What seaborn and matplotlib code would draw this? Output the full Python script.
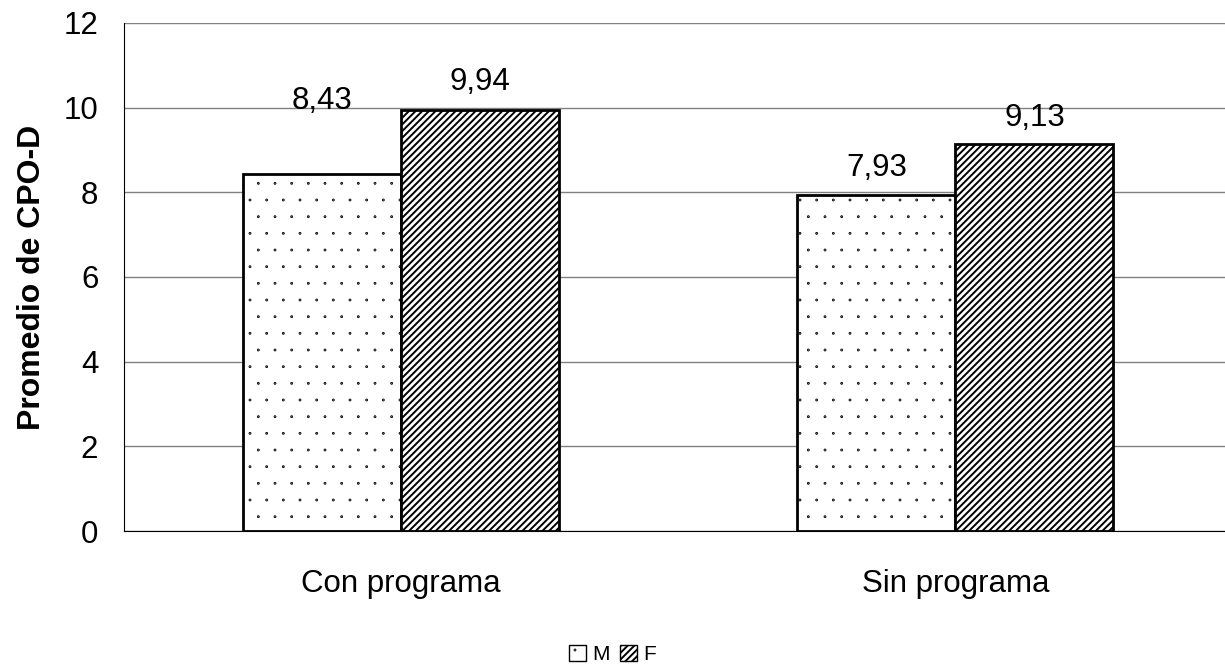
import pandas as pd
import matplotlib
import matplotlib.pyplot as plt
import seaborn as sns
from matplotlib.patches import Patch

# chart values
categories = ['Con programa', 'Sin programa']
sexes = ['M', 'F']
m_values = [8.43, 7.93]
f_values = [9.94, 9.13]
y_ticks = [0, 2, 4, 6, 8, 10, 12]

df = pd.DataFrame({
    'Grupo': categories * 2,
    'Sexo': ['M'] * len(categories) + ['F'] * len(categories),
    'CPO': m_values + f_values,
})

sns.set_style('white')
plt.rcParams['font.family'] = ['Liberation Sans', 'DejaVu Sans']
plt.rcParams['hatch.linewidth'] = 1.4
for key in ['text.color', 'axes.labelcolor', 'xtick.color', 'ytick.color']:
    plt.rcParams[key] = 'black'
# smaller dots for the stippled pattern
matplotlib.hatch.SmallFilledCircles.size = 0.025

fig = plt.figure(figsize=(12.25, 6.66), dpi=100)
ax = fig.add_axes([0.1012, 0.2027, 0.905, 0.7628])

sns.barplot(data=df, x='Grupo', y='CPO', hue='Sexo', hue_order=sexes,
            palette=['white', 'white'], width=0.57, gap=0,
            edgecolor='black', linewidth=2, ax=ax, legend=False)

hatches = {'M': '.', 'F': '/////'}
label_pad = {'M': [53, 20], 'F': [20, 19]}
for cont, sex in zip(ax.containers, sexes):
    for i, bar in enumerate(cont):
        bar.set_hatch(hatches[sex])
        ax.annotate(f'{bar.get_height():.2f}'.replace('.', ','),
                    (bar.get_x() + bar.get_width() / 2, bar.get_height()),
                    xytext=(0, label_pad[sex][i]), textcoords='offset points',
                    ha='center', va='center', fontsize=22.5)

ax.set_ylim(0, 12)
ax.set_yticks(y_ticks)
ax.yaxis.grid(True, color='#808080', linewidth=1)
ax.set_axisbelow(True)
ax.set_xlim(-0.5, 1.5)
ax.set_xticks([-0.5, 0.5, 1.5])
ax.set_xticklabels(['', '', ''])
ax.set_xticks([0, 1], minor=True)
ax.set_xticklabels(categories, minor=True, fontsize=22.5)
ax.tick_params(axis='x', which='minor', length=0, pad=27)
ax.tick_params(axis='x', which='major', length=8, width=1, color='black', direction='inout')
ax.tick_params(axis='y', length=9, width=1, color='black', direction='inout', labelsize=22.5, pad=14)

for side in ['top', 'right']:
    ax.spines[side].set_visible(False)
ax.spines['left'].set_color('black')
ax.spines['bottom'].set_color('black')

ax.set_xlabel('')
ax.set_ylabel('Promedio de CPO-D', fontsize=23, fontweight='bold', labelpad=12)

handles = [Patch(facecolor='white', edgecolor='black', linewidth=1, hatch=hatches[s], label=s)
           for s in sexes]
fig.legend(handles=handles, loc='lower center', bbox_to_anchor=(0.5, -0.025), ncol=2,
           frameon=False, fontsize=15, handlelength=0.8, handleheight=0.8,
           handletextpad=0.3, columnspacing=0.5)

fig.savefig('out.png', dpi=100)
